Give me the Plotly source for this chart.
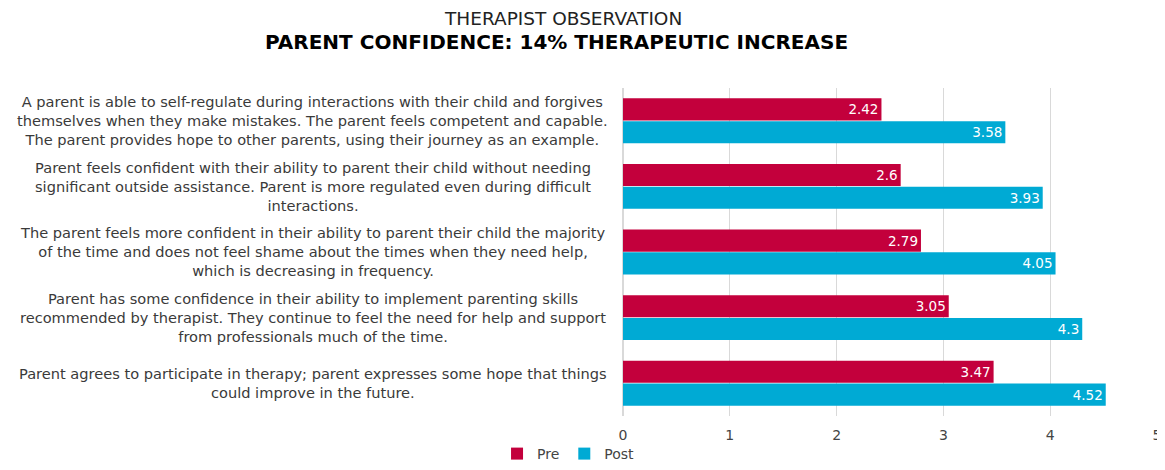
import plotly.graph_objects as go

# data
statements = [
    'A parent is able to self-regulate during interactions with their child and forgives<br>'
    'themselves when they make mistakes. The parent feels competent and capable.<br>'
    'The parent provides hope to other parents, using their journey as an example.',
    'Parent feels confident with their ability to parent their child without needing<br>'
    'significant outside assistance. Parent is more regulated even during difficult<br>'
    'interactions.',
    'The parent feels more confident in their ability to parent their child the majority<br>'
    'of the time and does not feel shame about the times when they need help,<br>'
    'which is decreasing in frequency.',
    'Parent has some confidence in their ability to implement parenting skills<br>'
    'recommended by therapist. They continue to feel the need for help and support<br>'
    'from professionals much of the time.',
    'Parent agrees to participate in therapy; parent expresses some hope that things<br>'
    'could improve in the future.',
]
pre = [2.42, 2.6, 2.79, 3.05, 3.47]
post = [3.58, 3.93, 4.05, 4.3, 4.52]

cats = [f'c{i}' for i in range(len(statements))]
font = 'DejaVu Sans'

fig = go.Figure()

for name, vals, col in [('Pre', pre, '#C3003C'), ('Post', post, '#00AAD4')]:
    fig.add_trace(
        go.Bar(
            y=cats,
            x=vals,
            name=name,
            orientation='h',
            marker=dict(color=col, line=dict(width=0)),
            text=[str(v) for v in vals],
            textposition='inside',
            insidetextanchor='end',
            textfont=dict(color='white', size=13.5, family=font),
        )
    )

# category labels as centred annotations
for c, s in zip(cats, statements):
    fig.add_annotation(
        x=-0.581, xref='paper', y=c, yref='y',
        text=s, showarrow=False, align='center', xanchor='center',
        font=dict(size=14.6, color='#3a3a3a', family=font),
    )

# titles
fig.add_annotation(
    x=-0.113, xref='paper', y=1.183, yref='paper', showarrow=False,
    text='THERAPIST OBSERVATION', xanchor='center', yanchor='middle',
    font=dict(size=18.5, color='#222222', family=font),
)
fig.add_annotation(
    x=-0.124, xref='paper', y=1.12, yref='paper', showarrow=False,
    text='PARENT CONFIDENCE: 14% THERAPEUTIC INCREASE', xanchor='center', yanchor='middle',
    font=dict(size=20, color='black', family=font, weight='bold'),
)

fig.update_layout(
    width=1157,
    height=462,
    margin=dict(l=615, r=8, t=80, b=0),
    plot_bgcolor='white',
    paper_bgcolor='white',
    barmode='group',
    bargap=0.305,
    bargroupgap=0.03,
    font=dict(family=font, size=13, color='#3a3a3a'),
    xaxis=dict(
        range=[0, 5],
        dtick=1,
        showgrid=True,
        gridcolor='#d9d9d9',
        zeroline=True,
        zerolinecolor='#d9d9d9',
        tickfont=dict(size=14, color='#444444'),
        ticklabelstandoff=9,
        ticklabeloverflow='allow',
        fixedrange=True,
    ),
    yaxis=dict(
        domain=[0.1414, 1],
        autorange='reversed',
        showticklabels=False,
        showgrid=False,
    ),
    legend=dict(
        orientation='h',
        x=-0.102, xanchor='center',
        y=0, yanchor='bottom',
        traceorder='normal',
        bgcolor='rgba(0,0,0,0)',
        font=dict(size=14, color='#444444'),
        itemwidth=30,
    ),
)

fig.write_html('out.html')
